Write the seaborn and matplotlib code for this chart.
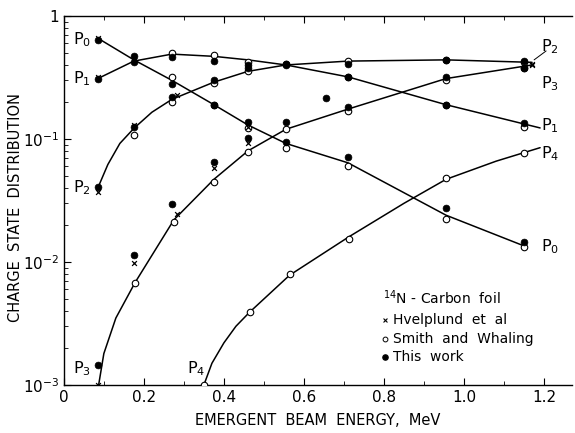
import matplotlib
matplotlib.use("Agg")
import matplotlib.pyplot as plt
import seaborn as sns
import pandas as pd
import numpy as np
from matplotlib.ticker import FixedLocator, LogLocator, NullFormatter, FixedFormatter

# ---- data ----
energy = [0.085, 0.175, 0.27, 0.375, 0.46, 0.555, 0.71, 0.955, 1.15]

# This work (filled circles)
tw_P0 = [0.64, 0.42, 0.28, 0.19, 0.137, 0.095, 0.071, 0.0275, 0.0146]
tw_P1 = [0.31, 0.47, 0.46, 0.43, 0.40, 0.41, 0.32, 0.19, 0.135]
tw_P2 = [0.041, 0.125, 0.22, 0.30, 0.377, 0.40, 0.41, 0.44, 0.43]
tw_P3 = [0.00146, 0.0114, 0.0296, 0.065, 0.102, 0.137, 0.182, 0.32, 0.38]
tw_extra_E = [0.655]
tw_extra_v = [0.215]

# Smith and Whaling (open circles)
sw_E = [0.27, 0.375, 0.46, 0.555, 0.71, 0.955, 1.15]
sw_P0 = [0.32, 0.19, 0.123, 0.0845, 0.060, 0.0224, 0.0132]
sw_P1 = [0.50, 0.48, 0.42, 0.41, 0.32, 0.19, 0.125]
sw_P2_E = [0.175, 0.27, 0.375, 0.46, 0.71, 0.955, 1.15]
sw_P2 = [0.108, 0.20, 0.285, 0.357, 0.43, 0.44, 0.42]
sw_P3_E = [0.178, 0.275, 0.375, 0.46, 0.555, 0.71, 0.955, 1.15]
sw_P3 = [0.0067, 0.0213, 0.0447, 0.078, 0.12, 0.169, 0.302, 0.38]
sw_P4_E = [0.35, 0.464, 0.564, 0.712, 0.955, 1.15]
sw_P4 = [0.001, 0.0039, 0.008, 0.0154, 0.048, 0.077]

# Hvelplund et al (crosses)
hv_E = [0.085, 0.175, 0.283, 0.375, 0.46, 1.17]
hv_P0 = [0.66, 0.44, None, None, 0.125, None]
hv_P1 = [0.32, 0.44, None, None, None, None]
hv_P2 = [0.037, 0.13, 0.23, None, None, 0.41]
hv_P3 = [0.001, 0.0098, 0.0247, 0.058, 0.093, 0.40]

# Fitted curves (hand-drawn lines, read as knots)
c_P0_E = [0.085, 0.175, 0.27, 0.375, 0.46, 0.555, 0.71, 0.955, 1.15]
c_P0 = [0.66, 0.44, 0.30, 0.19, 0.13, 0.092, 0.064, 0.024, 0.0135]
c_P1_E = [0.085, 0.175, 0.27, 0.375, 0.46, 0.555, 0.71, 0.955, 1.19]
c_P1 = [0.31, 0.43, 0.49, 0.47, 0.44, 0.40, 0.32, 0.19, 0.123]
c_P2_E = [0.085, 0.11, 0.14, 0.175, 0.22, 0.27, 0.375, 0.46, 0.555, 0.71, 0.955, 1.17]
c_P2 = [0.04, 0.062, 0.092, 0.122, 0.165, 0.21, 0.29, 0.355, 0.40, 0.43, 0.44, 0.42]
c_P3_E = [0.087, 0.1, 0.13, 0.178, 0.275, 0.375, 0.46, 0.555, 0.71, 0.955, 1.17]
c_P3 = [0.001, 0.0018, 0.0035, 0.0068, 0.022, 0.047, 0.08, 0.12, 0.175, 0.31, 0.40]
c_P4_E = [0.35, 0.37, 0.40, 0.43, 0.464, 0.564, 0.712, 0.85, 0.955, 1.08, 1.19]
c_P4 = [0.001, 0.0015, 0.0022, 0.003, 0.0039, 0.0078, 0.016, 0.03, 0.047, 0.066, 0.085]

xticks = [0, 0.2, 0.4, 0.6, 0.8, 1.0, 1.2]
xticklabels = ["0", "0.2", "0.4", "0.6", "0.8", "1.0", "1.2"]
yticks = [1e-3, 1e-2, 1e-1, 1]
yticklabels = ["10$^{-3}$", "10$^{-2}$", "10$^{-1}$", "1"]

# ---- build tables ----
def pts(E, vals):
    return pd.DataFrame({"E": E, "v": vals}).dropna()

tw = pd.concat([pts(energy, tw_P0), pts(energy, tw_P1), pts(energy, tw_P2),
                pts(energy, tw_P3), pts(tw_extra_E, tw_extra_v)])
sw = pd.concat([pts(sw_E, sw_P0), pts(sw_E, sw_P1), pts(sw_P2_E, sw_P2),
                pts(sw_P3_E, sw_P3), pts(sw_P4_E, sw_P4)])
hv = pd.concat([pts(hv_E, hv_P0), pts(hv_E, hv_P1), pts(hv_E, hv_P2),
                pts(hv_E, hv_P3)])
curves = pd.concat([
    pd.DataFrame({"E": c_P0_E, "v": c_P0, "c": "P0"}),
    pd.DataFrame({"E": c_P1_E, "v": c_P1, "c": "P1"}),
    pd.DataFrame({"E": c_P2_E, "v": c_P2, "c": "P2"}),
    pd.DataFrame({"E": c_P3_E, "v": c_P3, "c": "P3"}),
    pd.DataFrame({"E": c_P4_E, "v": c_P4, "c": "P4"}),
])

sns.set_style("ticks")
plt.rcParams["font.family"] = ["DejaVu Sans"]
for k in ["text.color", "axes.labelcolor", "xtick.color", "ytick.color", "axes.edgecolor"]:
    plt.rcParams[k] = "black"

fig = plt.figure(figsize=(5.75, 4.33), dpi=100)
ax = fig.add_axes([0.111, 0.111, 0.884, 0.852])

for name, g in curves.groupby("c"):
    sns.lineplot(data=g, x="E", y="v", ax=ax, color="black", lw=1.1,
                 sort=False, estimator=None, legend=False)

sns.scatterplot(data=sw, x="E", y="v", ax=ax, marker="o", s=22,
                facecolor="white", edgecolor="black", linewidth=0.8, zorder=3)
sns.scatterplot(data=tw, x="E", y="v", ax=ax, marker="o", s=24,
                color="black", edgecolor="black", linewidth=0.5, zorder=4)
sns.scatterplot(data=hv, x="E", y="v", ax=ax, marker="x", s=12,
                color="black", linewidth=0.9, zorder=5)

ax.set_yscale("log")
ax.set_xlim(0, 1.27)
ax.set_ylim(1e-3, 1)
ax.xaxis.set_major_locator(FixedLocator(xticks))
ax.xaxis.set_major_formatter(FixedFormatter(xticklabels))
ax.xaxis.set_minor_locator(FixedLocator([0.1, 0.3, 0.5, 0.7, 0.9, 1.1]))
ax.yaxis.set_major_locator(FixedLocator(yticks))
ax.yaxis.set_major_formatter(FixedFormatter(yticklabels))
ax.yaxis.set_minor_locator(LogLocator(base=10, subs=np.arange(2, 10) * 1.0))
ax.yaxis.set_minor_formatter(NullFormatter())
ax.tick_params(which="both", direction="in", top=True, right=False)
ax.tick_params(which="major", length=5, width=0.8, labelsize=11)
ax.tick_params(which="minor", length=3, width=0.6)
for s in ["left", "bottom", "top"]:
    ax.spines[s].set_linewidth(1.0)
ax.spines["right"].set_visible(False)

ax.set_xlabel("EMERGENT  BEAM  ENERGY,  MeV", fontsize=10.5, labelpad=6)
ax.set_ylabel("CHARGE  STATE  DISTRIBUTION", fontsize=10.5)
ax.yaxis.set_label_coords(-0.08, 0.48)

# curve labels
lab = dict(fontsize=11.5, color="black", ha="center", va="center")
ax.text(0.045, 0.64, "P$_0$", **lab)
ax.text(0.045, 0.31, "P$_1$", **lab)
ax.text(0.045, 0.040, "P$_2$", **lab)
ax.text(0.045, 0.00135, "P$_3$", **lab)
ax.text(0.33, 0.00135, "P$_4$", **lab)
ax.text(1.215, 0.56, "P$_2$", **lab)
ax.text(1.215, 0.28, "P$_3$", **lab)
ax.text(1.215, 0.128, "P$_1$", **lab)
ax.text(1.215, 0.076, "P$_4$", **lab)
ax.text(1.215, 0.0133, "P$_0$", **lab)
ax.plot([1.175, 1.205], [0.44, 0.52], color="black", lw=0.7)

# legend as text block
lx, tx = 0.797, 0.822
ax.text(lx, 0.0051, "$^{14}$N - Carbon  foil", fontsize=10, ha="left", va="center")
ax.scatter([lx + 0.006], [0.0034], marker="x", s=8, color="black", lw=0.8)
ax.scatter([lx + 0.006], [0.00237], marker="o", s=12, facecolor="white", edgecolor="black", lw=0.7)
ax.scatter([lx + 0.006], [0.00169], marker="o", s=14, color="black")
ax.text(tx, 0.0034, "Hvelplund  et  al", fontsize=10, ha="left", va="center")
ax.text(tx, 0.00237, "Smith  and  Whaling", fontsize=10, ha="left", va="center")
ax.text(tx, 0.00169, "This  work", fontsize=10, ha="left", va="center")

fig.savefig("out.png", dpi=100, facecolor="white")
